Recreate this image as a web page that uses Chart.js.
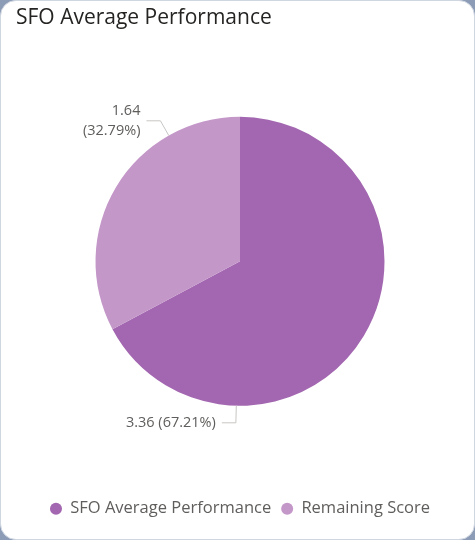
<!DOCTYPE html>
<html>
<head>
<meta charset="utf-8">
<script src="https://cdn.jsdelivr.net/npm/chart.js@4.4.1/dist/chart.umd.min.js"></script>
<style>
  html, body { margin: 0; padding: 0; background: #8c9cb7; }
  #card {
    position: absolute; left: 0; top: 0; width: 473px; height: 538px;
    background: #fff; border: 1px solid #cfd6e0; border-radius: 16px; overflow: hidden;
  }
  canvas { display: block; }
</style>
</head>
<body>
<div id="card"><canvas id="pie" width="473" height="538"></canvas></div>
<script>
const TITLE = 'SFO Average Performance';
const CATEGORIES = ['SFO Average Performance', 'Remaining Score'];
const VALUES = [3.3605, 1.6395];
const COLORS = ['#a366b0', '#c497c9'];

// leader lines + labels, Power BI style
const leaderLabels = {
    id: 'leaderLabels',
    afterDatasetsDraw(chart) {
        const { ctx } = chart;
        const meta = chart.getDatasetMeta(0);
        const total = VALUES.reduce((a, b) => a + b, 0);
        ctx.save();
        ctx.font = '14.5px "Open Sans", sans-serif';
        meta.data.forEach((arc, i) => {
            const { x, y, outerRadius, startAngle, endAngle } = arc.getProps(['x', 'y', 'outerRadius', 'startAngle', 'endAngle'], true);
            const a = startAngle + 0.75 * (endAngle - startAngle);
            const cos = Math.cos(a), sin = Math.sin(a);
            const p0 = [x + outerRadius * cos, y + outerRadius * sin];
            const p1 = [x + (outerRadius + 17) * cos, y + (outerRadius + 17) * sin];
            const left = cos < 0.2;
            const p2 = [p1[0] + (left ? -14 : 14), p1[1]];
            ctx.strokeStyle = '#c8c6c4';
            ctx.lineWidth = 1;
            ctx.beginPath();
            ctx.moveTo(p0[0], p0[1]);
            ctx.lineTo(p1[0], p1[1]);
            ctx.lineTo(p2[0], p2[1]);
            ctx.stroke();

            const v = VALUES[i].toFixed(2);
            const pct = '(' + (VALUES[i] / total * 100).toFixed(2) + '%)';
            const tx = p2[0] + (left ? -6 : 6);
            ctx.fillStyle = '#605e5c';
            ctx.textAlign = left ? 'right' : 'left';
            ctx.textBaseline = 'middle';
            const one = v + ' ' + pct;
            if (ctx.measureText(one).width > tx - 60) {
                ctx.fillText(v, tx, p2[1] - 10);
                ctx.fillText(pct, tx, p2[1] + 10);
            } else {
                ctx.fillText(one, tx, p2[1]);
            }
        });
        ctx.restore();
    }
};

new Chart(document.getElementById('pie'), {
    type: 'pie',
    data: {
        labels: CATEGORIES,
        datasets: [{
            data: VALUES,
            backgroundColor: COLORS,
            borderWidth: 0,
            hoverOffset: 0,
            radius: 144.5
        }]
    },
    options: {
        responsive: false,
        animation: false,
        layout: { padding: { left: 15, right: 10, top: 0, bottom: 12 } },
        plugins: {
            title: {
                display: true,
                text: TITLE,
                align: 'start',
                color: '#252423',
                font: { family: '"Open Sans", sans-serif', size: 21, weight: 'normal' },
                padding: { top: 4, bottom: 2 }
            },
            legend: {
                position: 'bottom',
                labels: {
                    usePointStyle: true,
                    pointStyle: 'circle',
                    boxWidth: 12,
                    boxHeight: 8.5,
                    color: '#605e5c',
                    font: { family: '"Open Sans", sans-serif', size: 16.5 },
                    padding: 10
                }
            },
            tooltip: { enabled: false }
        }
    },
    plugins: [leaderLabels]
});
</script>
</body>
</html>
